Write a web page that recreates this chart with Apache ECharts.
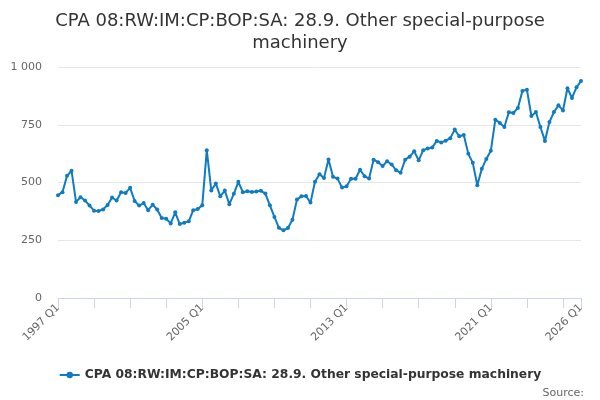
<!DOCTYPE html>
<html>
<head>
<meta charset="utf-8">
<script src="https://cdn.jsdelivr.net/npm/echarts@6/dist/echarts.min.js"></script>
<style>
  html, body { margin: 0; padding: 0; background: #fff; }
  #chart { width: 600px; height: 400px; }
</style>
</head>
<body>
<div id="chart"></div>
<script>
// quarters 1997 Q1 .. 2026 Q1
const startYear = 1997;
const quarterCount = 117;
const quarters = [];
for (let i = 0; i < quarterCount; i++) {
    quarters.push((startYear + Math.floor(i / 4)) + ' Q' + (i % 4 + 1));
}

// values
const importValues = [
    445, 458, 529, 551, 416, 436, 422, 400, 378, 377, 383, 403, 435, 422, 458, 455,
    477, 420, 400, 411, 380, 404, 383, 346, 343, 323, 371, 320, 326, 332, 380, 385,
    401, 640, 465, 496, 440, 465, 406, 451, 503, 458, 462, 459, 461, 464, 452, 401,
    351, 304, 293, 303, 339, 426, 440, 442, 413, 503, 536, 520, 600, 525, 517, 478,
    484, 516, 516, 555, 527, 517, 599, 588, 571, 592, 578, 553, 542, 599, 612, 635,
    596, 640, 647, 651, 680, 673, 681, 692, 729, 700, 706, 625, 585, 488, 559, 602,
    637, 772, 758, 740, 804, 801, 823, 896, 902, 788, 805, 740, 680, 762, 805, 834,
    812, 908, 866, 912, 939
];

const yTicks = [0, 250, 500, 750, 1000];
const seriesName = 'CPA 08:RW:IM:CP:BOP:SA: 28.9. Other special-purpose machinery';

let myChart = echarts.init(document.getElementById('chart'));

let option = {
    animation: false,
    color: ['#0f7cc1'],
    title: [
        {
            text: 'CPA 08:RW:IM:CP:BOP:SA: 28.9. Other special-purpose\nmachinery',
            left: 'center',
            top: 5,
            textStyle: {
                fontFamily: 'DejaVu Sans',
                fontSize: 18,
                fontWeight: 'normal',
                color: '#333333',
                lineHeight: 22,
                align: 'center'
            }
        },
        {
            text: 'Source:',
            right: 11,
            top: 383,
            textStyle: {
                fontFamily: 'DejaVu Sans',
                fontSize: 11,
                fontWeight: 'normal',
                color: '#666666'
            }
        }
    ],
    legend: {
        data: [seriesName],
        top: 364,
        left: 'center',
        itemWidth: 20,
        itemHeight: 8,
        textStyle: {
            fontFamily: 'DejaVu Sans',
            fontSize: 12.3,
            fontWeight: 'bold',
            color: '#333333'
        }
    },
    grid: {
        left: 58,
        right: 19,
        top: 67,
        bottom: 102,
        containLabel: false
    },
    xAxis: {
        type: 'category',
        data: quarters,
        boundaryGap: false,
        axisLine: {
            lineStyle: { color: '#ccd6eb' }
        },
        axisTick: {
            interval: function(index) {
                return index % 8 === 0 || index === quarterCount - 1;
            },
            length: 10,
            lineStyle: { color: '#ccd6eb' }
        },
        axisLabel: {
            interval: function(index) {
                return index % 32 === 0 || index === quarterCount - 1;
            },
            rotate: 45,
            margin: 8,
            fontFamily: 'DejaVu Sans',
            fontSize: 11,
            color: '#666666'
        },
        splitLine: { show: false }
    },
    yAxis: {
        type: 'value',
        min: yTicks[0],
        max: yTicks[yTicks.length - 1],
        interval: 250,
        axisLine: { show: false },
        axisTick: { show: false },
        axisLabel: {
            margin: 16,
            fontFamily: 'DejaVu Sans',
            fontSize: 11,
            color: '#666666',
            formatter: function(value) {
                return value >= 1000 ? String(value).replace(/\B(?=(\d{3})+(?!\d))/g, ' ') : String(value);
            }
        },
        splitLine: {
            lineStyle: { color: '#e6e6e6' }
        }
    },
    series: [
        {
            name: seriesName,
            type: 'line',
            data: importValues,
            symbol: 'circle',
            symbolSize: 4,
            showAllSymbol: true,
            lineStyle: { width: 2 },
            itemStyle: { color: '#0f7cc1' }
        }
    ]
};

myChart.setOption(option);

window.addEventListener('resize', function() {
    myChart.resize();
});
</script>
</body>
</html>
